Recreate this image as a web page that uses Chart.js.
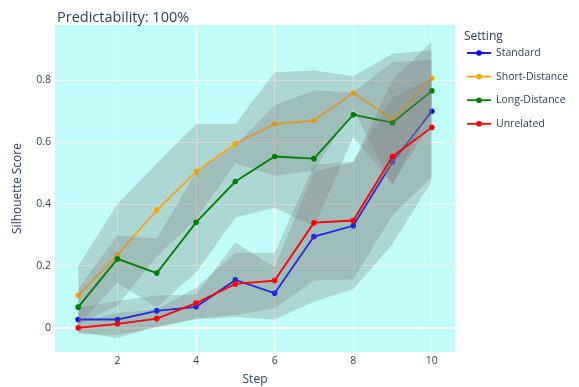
<!DOCTYPE html>
<html>
<head>
<meta charset="utf-8">
<script src="https://cdn.jsdelivr.net/npm/chart.js@4/dist/chart.umd.min.js"></script>
<style>
  html, body { margin: 0; padding: 0; background: #ffffff; }
  canvas { display: block; }
</style>
</head>
<body>
<canvas id="c" width="579" height="387"></canvas>
<script>
// Training steps
const steps = [1, 2, 3, 4, 5, 6, 7, 8, 9, 10];

// Mean silhouette score per setting
const standardMean      = [0.027, 0.027, 0.055, 0.068, 0.155, 0.112, 0.295, 0.330, 0.536, 0.700];
const shortDistanceMean = [0.105, 0.236, 0.381, 0.505, 0.595, 0.659, 0.670, 0.760, 0.673, 0.807];
const longDistanceMean  = [0.067, 0.223, 0.177, 0.341, 0.473, 0.554, 0.547, 0.689, 0.663, 0.766];
const unrelatedMean     = [0.000, 0.013, 0.030, 0.080, 0.142, 0.153, 0.340, 0.347, 0.554, 0.648];

// Standard deviation per setting (shaded band = mean ± sd)
const standardSd      = [0.040, 0.060, 0.050, 0.040, 0.120, 0.085, 0.210, 0.205, 0.265, 0.225];
const shortDistanceSd = [0.095, 0.164, 0.150, 0.154, 0.064, 0.167, 0.162, 0.053, 0.213, 0.090];
const longDistanceSd  = [0.060, 0.076, 0.111, 0.162, 0.116, 0.166, 0.220, 0.073, 0.196, 0.100];
const unrelatedSd     = [0.020, 0.035, 0.030, 0.050, 0.100, 0.090, 0.187, 0.190, 0.190, 0.160];

// Axis ticks
const xTicks = [2, 4, 6, 8, 10];
const yTicks = [0, 0.2, 0.4, 0.6, 0.8];

const settingNames  = ['Standard', 'Short-Distance', 'Long-Distance', 'Unrelated'];
const settingColors = ['#0000ff', '#ffa500', '#008000', '#ff0000'];
const settingMeans  = [standardMean, shortDistanceMean, longDistanceMean, unrelatedMean];
const settingSds    = [standardSd, shortDistanceSd, longDistanceSd, unrelatedSd];

const FONT = '"Open Sans", "DejaVu Sans", Arial, sans-serif';
const TEXT = '#2a3f5f';
const PLOT_BG = 'rgb(192,252,250)';
const BAND = 'rgba(128,128,128,0.3)';

const pts = arr => arr.map((v, i) => ({ x: steps[i], y: v }));

// Each setting: band (upper filled to lower) then its line; later settings sit on top
const datasets = [];
settingNames.forEach((name, k) => {
  const mean = settingMeans[k], sd = settingSds[k];
  const base = 2 * (settingNames.length - k);
  datasets.push({
    label: name + ' upper',
    data: pts(mean.map((m, i) => m + sd[i])),
    borderWidth: 0, pointRadius: 0, pointHoverRadius: 0,
    backgroundColor: BAND, fill: '+1', order: base
  });
  datasets.push({
    label: name + ' lower',
    data: pts(mean.map((m, i) => m - sd[i])),
    borderWidth: 0, pointRadius: 0, pointHoverRadius: 0,
    backgroundColor: BAND, fill: false, order: base
  });
  datasets.push({
    label: name,
    data: pts(mean),
    borderColor: settingColors[k],
    backgroundColor: settingColors[k],
    borderWidth: 1.8,
    pointRadius: 2.8,
    pointBorderWidth: 0,
    pointBackgroundColor: settingColors[k],
    fill: false,
    tension: 0,
    order: base - 1
  });
});

const decor = {
  id: 'decor',
  beforeDraw(chart) {
    const { ctx, chartArea: a } = chart;
    ctx.save();
    ctx.fillStyle = PLOT_BG;
    ctx.fillRect(a.left, a.top, a.right - a.left, a.bottom - a.top);
    ctx.restore();
  },
  afterDraw(chart) {
    const { ctx, chartArea: a } = chart;
    ctx.save();
    ctx.fillStyle = TEXT;
    // Title
    ctx.font = '14.5px ' + FONT;
    ctx.textAlign = 'left';
    ctx.textBaseline = 'alphabetic';
    ctx.fillText('Predictability: 100%', 57, 22);
    // Axis titles
    ctx.font = '12px ' + FONT;
    ctx.textAlign = 'center';
    ctx.textBaseline = 'middle';
    ctx.fillText('Step', (a.left + a.right) / 2, 380);
    ctx.save();
    ctx.translate(18, (a.top + a.bottom) / 2);
    ctx.rotate(-Math.PI / 2);
    ctx.fillText('Silhouette Score', 0, 0);
    ctx.restore();
    // Legend
    ctx.textAlign = 'left';
    ctx.font = '12px ' + FONT;
    ctx.fillText('Setting', 464, 37);
    ctx.font = '10.5px ' + FONT;
    settingNames.forEach((name, k) => {
      const y = 53 + k * 23.6;
      ctx.strokeStyle = settingColors[k];
      ctx.lineWidth = 1.8;
      ctx.beginPath();
      ctx.moveTo(467, y);
      ctx.lineTo(491, y);
      ctx.stroke();
      ctx.fillStyle = settingColors[k];
      ctx.beginPath();
      ctx.arc(479, y, 2.8, 0, Math.PI * 2);
      ctx.fill();
      ctx.fillStyle = TEXT;
      ctx.fillText(name, 496, y);
    });
    ctx.restore();
  }
};

new Chart(document.getElementById('c'), {
  type: 'line',
  data: { datasets },
  plugins: [decor],
  options: {
    responsive: false,
    devicePixelRatio: 1,
    animation: false,
    events: [],
    layout: { padding: { left: 0, right: 124, top: 25, bottom: 0 } },
    plugins: {
      legend: { display: false },
      title: { display: false },
      tooltip: { enabled: false },
      filler: { propagate: false }
    },
    scales: {
      x: {
        type: 'linear',
        min: 0.41, max: 10.59,
        afterBuildTicks: s => { s.ticks = xTicks.map(v => ({ value: v })); },
        afterFit: s => { s.height = 35; },
        grid: { color: '#ffffff', lineWidth: 1, drawTicks: false },
        border: { display: false },
        ticks: { color: TEXT, font: { family: FONT, size: 10.5 }, padding: 3, maxRotation: 0 }
      },
      y: {
        type: 'linear',
        min: -0.078, max: 0.979,
        afterBuildTicks: s => { s.ticks = yTicks.map(v => ({ value: v })); },
        afterFit: s => { s.width = 55; },
        grid: {
          color: '#ffffff',
          lineWidth: c => (c.tick && c.tick.value === 0 ? 2 : 1),
          drawTicks: false
        },
        border: { display: false },
        ticks: {
          color: TEXT, font: { family: FONT, size: 10.5 }, padding: 4,
          callback: v => (v === 0 ? '0' : v.toFixed(1))
        }
      }
    }
  }
});
</script>
</body>
</html>
